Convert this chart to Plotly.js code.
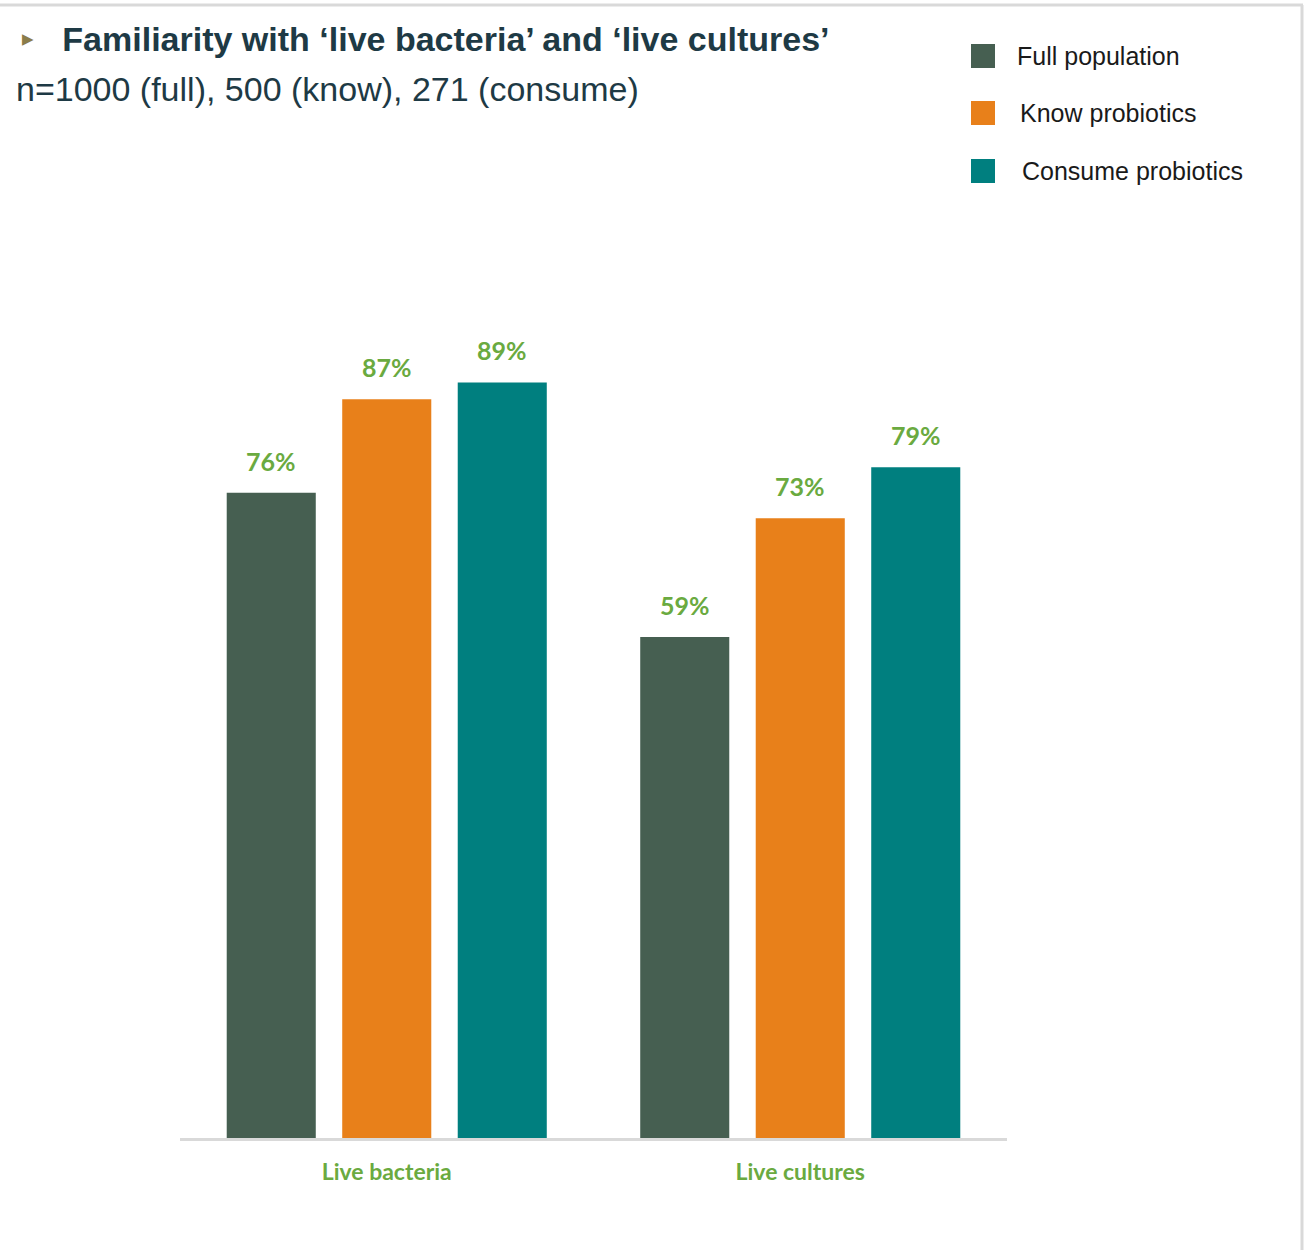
<!DOCTYPE html>
<html><head><meta charset="utf-8">
<script src="https://cdn.plot.ly/plotly-3.0.1.min.js"></script>
<style>html,body{margin:0;padding:0;background:#fff}#chart{width:1304px;height:1250px}</style>
</head><body><div id="chart"></div>
<script>
const categories = ['Live bacteria', 'Live cultures'];
const seriesNames = ['Full population', 'Know probiotics', 'Consume probiotics'];
const fullPopulation = [76, 59];
const knowProbiotics = [87, 73];
const consumeProbiotics = [89, 79];
const seriesColors = ['#465f51', '#e8801a', '#007f7f'];
const seriesValues = [fullPopulation, knowProbiotics, consumeProbiotics];
const titleText = 'Familiarity with \u2018live bacteria\u2019 and \u2018live cultures\u2019';
const subtitleText = 'n=1000 (full), 500 (know), 271 (consume)';

const W = 1304, H = 1250, L = 180, R = 1007, T = 289, B = 1138;
const bargap = 0.162, bargroupgap = 0.229;
const px = x => (x - L) / (R - L);
const py = y => (B - y) / (B - T);
const labelGreen = '#6aaa40';

const traces = seriesValues.map((vals, j) => ({
  type: 'bar', x: categories, y: vals, name: seriesNames[j],
  marker: {color: seriesColors[j]}, showlegend: false, hoverinfo: 'skip'
}));

const annotations = [];
const n = seriesValues.length;
seriesValues.forEach((vals, j) => {
  vals.forEach((v, i) => {
    annotations.push({
      xref: 'x', yref: 'y', x: i + (j - (n - 1) / 2) * (1 - bargap) / n, y: v,
      text: '<b>' + v + '%</b>', showarrow: false, xanchor: 'center', yanchor: 'bottom', yshift: 15,
      font: {family: 'Lato, Open Sans, sans-serif', size: 25, color: labelGreen}
    });
  });
});

annotations.push({
  xref: 'paper', yref: 'paper', x: px(14), y: py(89), xanchor: 'left', yanchor: 'middle',
  text: subtitleText, showarrow: false,
  font: {family: 'Liberation Sans, Arial, sans-serif', size: 34, color: '#1e3a45'}
});

const shapes = [];
const legendY = [56, 113, 171];
seriesNames.forEach((name, j) => {
  shapes.push({type: 'rect', xref: 'paper', yref: 'paper',
    x0: px(971), x1: px(995), y0: py(legendY[j] - 12), y1: py(legendY[j] + 12),
    fillcolor: seriesColors[j], line: {width: 0}});
  annotations.push({xref: 'paper', yref: 'paper', x: px(1015 + j * 2.5), y: py(legendY[j]),
    xanchor: 'left', yanchor: 'middle', text: name, showarrow: false,
    font: {family: 'Liberation Sans, Arial, sans-serif', size: 25, color: '#1a1a1a'}});
});
// frame lines
shapes.push({type: 'line', xref: 'paper', yref: 'paper', x0: px(0), x1: px(1303), y0: py(5), y1: py(5), line: {color: '#d9d9d9', width: 3}});
shapes.push({type: 'line', xref: 'paper', yref: 'paper', x0: px(1302), x1: px(1302), y0: py(5), y1: py(1250), line: {color: '#d9d9d9', width: 3}});

const layout = {
  width: W, height: H,
  margin: {l: L, r: W - R, t: T, b: H - B, pad: 0},
  paper_bgcolor: '#ffffff', plot_bgcolor: '#ffffff',
  barmode: 'group', bargap: bargap, bargroupgap: bargroupgap,
  showlegend: false,
  title: {
    text: '<span style="color:#8a7d4a;font-size:15px;baseline-shift:7px">\u25B6</span>   <b>' + titleText + '</b>',
    xref: 'container', yref: 'container', x: 22 / W, xanchor: 'left', y: 1 - 39 / H, yanchor: 'middle',
    font: {family: 'Liberation Sans, Arial, sans-serif', size: 34, color: '#1e3a45'}
  },
  xaxis: {
    type: 'category', range: [-0.5, 1.5], showline: true, linecolor: '#d9d9d9', linewidth: 3,
    ticks: '', showgrid: false, zeroline: false, ticklabelstandoff: 11,
    tickfont: {family: 'Lato, sans-serif', size: 23, color: labelGreen},
    tickprefix: '<b>', ticksuffix: '</b>'
  },
  yaxis: {range: [0, 100], visible: false, showgrid: false, zeroline: false},
  annotations: annotations, shapes: shapes
};

Plotly.newPlot('chart', traces, layout, {displayModeBar: false, staticPlot: true});
</script></body></html>
